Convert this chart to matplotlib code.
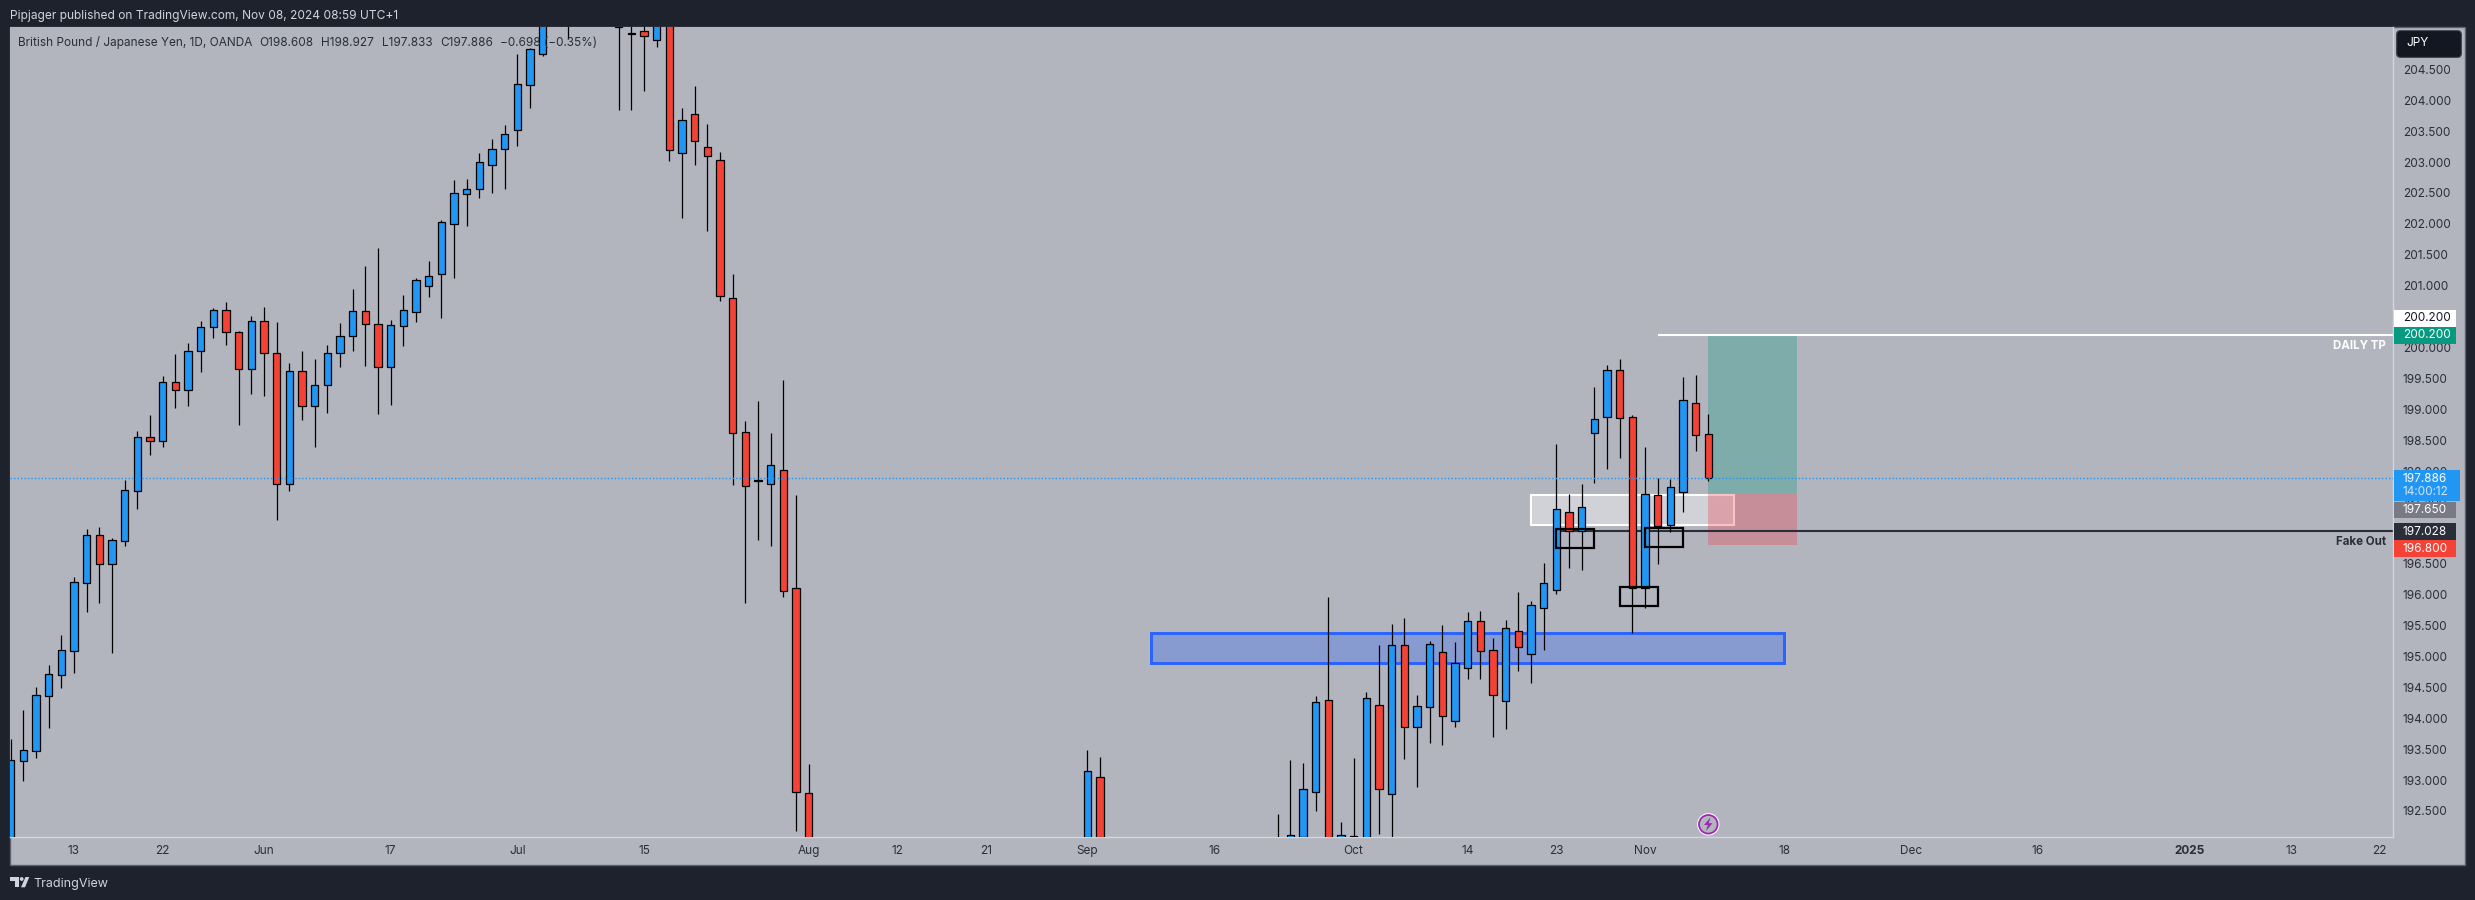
import matplotlib
matplotlib.use("Agg")
import matplotlib.pyplot as plt
from matplotlib.patches import Rectangle, FancyBboxPatch, Circle, Polygon

plt.rcParams['font.family'] = ['Inter', 'DejaVu Sans']

# ---------- data ----------
first_session = "2024-05-06"   # session number 0; sessions are weekdays
bar_idx = list(range(0, 43)) + [44] + list(range(48, 64)) + [85, 86] + list(range(100, 135))
opens = [191.5,193.314,193.476,194.366,194.706,195.094,196.195,196.960,196.502,196.874,
         197.683,198.546,198.493,199.436,199.307,199.938,200.326,200.601,200.245,199.647,
         200.424,199.906,197.786,199.614,199.048,199.388,199.906,200.181,200.585,200.375,
         199.679,200.343,200.569,200.990,201.184,201.993,202.478,202.559,202.948,203.207,
         203.514,204.242,204.744,
         205.6,
         205.22,205.09,205.116,204.981,205.7,203.153,203.773,203.239,203.029,200.796,
         198.627,197.86,197.796,198.012,196.103,192.786,
         191.5,193.045,
         191.3,191.6,192.084,192.802,194.291,192.0,192.10,191.9,194.210,192.769,
         195.180,193.854,194.177,195.067,193.951,194.808,195.569,195.100,194.274,195.407,
         195.035,195.779,196.071,197.333,197.025,198.611,198.870,199.631,198.870,196.103,
         197.608,197.122,197.656,199.097,198.608]
highs = [193.665,194.134,194.506,194.862,195.348,196.286,197.063,197.095,196.912,197.856,
         198.649,198.908,199.539,199.895,200.067,200.429,200.639,200.736,200.26,200.510,
         200.655,200.413,199.744,199.943,199.814,200.041,200.397,200.947,201.319,201.610,
         200.445,200.850,201.119,201.400,202.063,202.705,202.727,203.142,203.374,203.595,
         204.749,204.84,205.9,
         206.3,
         205.6,205.4,205.3,205.9,205.9,203.875,204.231,203.617,203.163,201.189,
         198.811,199.134,198.617,199.474,197.613,193.260,
         193.487,193.374,
         192.451,193.325,193.277,194.355,195.963,192.322,193.352,194.420,195.186,195.526,
         195.623,194.377,195.245,195.509,195.234,195.720,195.736,195.299,195.590,196.044,
         195.898,196.513,198.439,197.630,197.791,199.361,199.717,199.814,198.908,198.390,
         197.883,197.872,199.523,199.555,198.927]
lows = [191.2,192.985,193.357,193.843,194.490,194.733,195.720,195.865,195.056,196.788,
        197.387,198.260,198.390,199.021,199.054,199.604,200.154,200.041,198.746,199.248,
        199.215,197.209,197.678,198.827,198.390,198.940,199.685,199.943,199.701,198.924,
        199.070,200.024,200.413,200.817,200.477,201.125,201.966,202.419,202.500,202.565,
        203.261,203.875,204.711,
        204.987,
        203.848,203.843,204.151,204.868,203.018,202.096,202.953,201.885,200.752,197.775,
        195.865,196.885,196.788,195.963,192.176,190.5,
        191.0,191.0,
        191.0,191.4,191.8,192.500,191.5,191.6,191.7,191.6,192.133,191.9,
        193.347,192.894,193.606,193.573,193.864,194.641,194.641,193.703,193.832,194.771,
        194.576,195.105,196.011,196.437,196.405,197.807,198.034,198.212,195.380,195.785,
        196.497,197.015,197.338,198.325,197.833]
closes = [193.325,193.481,194.371,194.711,195.100,196.200,196.960,196.502,196.880,197.689,
          198.546,198.493,199.436,199.307,199.938,200.326,200.601,200.245,199.647,200.424,
          199.906,197.786,199.614,199.048,199.388,199.906,200.181,200.585,200.375,199.679,
          200.359,200.601,201.087,201.152,202.025,202.495,202.559,202.996,203.207,203.449,
          204.258,204.825,205.6,
          206.0,
          205.18,205.07,205.046,205.6,203.201,203.676,203.347,203.104,200.839,198.622,
          197.764,197.84,198.093,196.065,192.802,191.5,
          193.142,191.3,
          191.7,192.106,192.850,194.258,191.9,192.106,192.08,194.323,192.850,195.180,
          193.854,194.193,195.197,194.032,194.889,195.569,195.083,194.371,195.456,195.148,
          195.828,196.184,197.381,197.025,197.414,198.838,199.631,198.854,196.103,197.624,
          197.106,197.737,199.145,198.579,197.886]

price_ticks = [192.5 + 0.5 * i for i in range(25)]
time_ticks = [5, 12, 20, 30, 40, 50, 63, 70, 77, 85, 95, 106, 115, 122, 129, 140, 150, 160, 172, 180, 187]
time_labels = ["13", "22", "Jun", "17", "Jul", "15", "Aug", "12", "21", "Sep", "16", "Oct", "14", "23",
               "Nov", "18", "Dec", "16", "2025", "13", "22"]

last_price = 197.886
tp_price = 200.2
entry_price = 197.65
stop_price = 196.8
fake_out_price = 197.028
blue_zone = (90, 140, 194.89, 195.385)
white_zone = (120, 136, 197.13, 197.62)
black_boxes = [(122, 125, 196.756, 197.063), (127, 130, 195.817, 196.129), (129, 132, 196.772, 197.079)]
trade_span = (134, 141)

# ---------- colours ----------
DARK = "#1e222d"
BG = "#b2b5be"
UP = "#2196f3"
DOWN = "#f44336"
INK = "#2a2e39"
W, H = 2475, 900

fig = plt.figure(figsize=(W / 100, H / 100), dpi=100, facecolor=DARK)
fig.patches.append(Rectangle((9.5 / W, 1 - 864.5 / H), 2455.5 / W, 838 / H, transform=fig.transFigure,
                             facecolor=BG, edgecolor="#5d606b", lw=1.0, zorder=-5))

ax = fig.add_axes([10 / W, 1 - 837 / H, 2383 / W, 810 / H], facecolor=BG)
ax.set_xlim(-0.04, 188.04)
ax.set_ylim(192.079, 205.186)
for name, sp in ax.spines.items():
    sp.set_visible(name in ("right", "bottom"))
    sp.set_color("#d4d6dc")
    sp.set_linewidth(1.0)

ax.yaxis.tick_right()
ax.set_yticks(price_ticks)
ax.set_yticklabels([f"{p:.3f}" for p in price_ticks], fontsize=8.5, color=INK)
ax.tick_params(axis="y", length=0, pad=7)
ax.set_xticks(time_ticks)
ax.set_xticklabels(time_labels, fontsize=8.5, color=INK)
ax.tick_params(axis="x", length=0, pad=6)
for lab in ax.get_xticklabels():
    if lab.get_text() == "2025":
        lab.set_fontweight("bold")

# drawings (behind candles)
x0, x1, y0, y1 = blue_zone
ax.add_patch(Rectangle((x0, y0), x1 - x0, y1 - y0, facecolor=(41/255, 98/255, 1, 0.3), edgecolor="none", zorder=1))
ax.add_patch(Rectangle((x0, y0), x1 - x0, y1 - y0, facecolor="none", edgecolor="#2962ff", lw=2.1, zorder=1.1))
x0, x1, y0, y1 = white_zone
ax.add_patch(Rectangle((x0, y0), x1 - x0, y1 - y0, facecolor=(1, 1, 1, 0.4), edgecolor="white", lw=1.5, zorder=1.2))
ax.add_patch(Rectangle((trade_span[0], entry_price), trade_span[1] - trade_span[0], tp_price - entry_price,
                       facecolor=(8/255, 153/255, 129/255, 0.3), edgecolor="none", zorder=1.3))
ax.add_patch(Rectangle((trade_span[0], stop_price), trade_span[1] - trade_span[0], entry_price - stop_price,
                       facecolor=(242/255, 54/255, 69/255, 0.3), edgecolor="none", zorder=1.3))
ax.plot([130, 188.04], [tp_price, tp_price], color="white", lw=1.5, zorder=1.5, solid_capstyle="butt")
ax.plot([122, 188.04], [fake_out_price, fake_out_price], color=INK, lw=1.5, zorder=1.5, solid_capstyle="butt")

# candles
body_colors = [UP if c >= o else DOWN for o, c in zip(opens, closes)]
ax.vlines(bar_idx, lows, highs, color="black", lw=0.9, zorder=3)
ax.bar(bar_idx, [abs(c - o) for o, c in zip(opens, closes)], bottom=[min(o, c) for o, c in zip(opens, closes)],
       width=0.58, color=body_colors, edgecolor="black", linewidth=0.9, zorder=3.1)

for x0, x1, y0, y1 in black_boxes:
    ax.add_patch(Rectangle((x0, y0), x1 - x0, y1 - y0, facecolor="none", edgecolor="black", lw=1.6, zorder=3.5))

ax.axhline(last_price, color=UP, lw=1.0, ls=(0, (1, 1.5)), zorder=4)

# ---------- overlay in pixel coordinates: header, tags, logo ----------
ov = fig.add_axes([0, 0, 1, 1], facecolor="none", zorder=10)
ov.set_xlim(0, W)
ov.set_ylim(H, 0)
ov.axis("off")

ov.text(10.3, 15.5, "Pipjager published on TradingView.com, Nov 08, 2024 08:59 UTC+1",
        color="#d1d4dc", fontsize=8.6, va="center", ha="left")

legend_parts = [(18, "British Pound / Japanese Yen, 1D, OANDA"), (259, "O198.608"), (321, "H198.927"),
                (382, "L197.833"), (440, "C197.886"), (500, "\u22120.698 (\u22120.35%)")]
for x, s in legend_parts:
    ov.text(x, 42.7, s, color=INK, fontsize=8.5, va="center", ha="left")

def tag(top, bottom, color, text, text_color, right=2456, text_y=None):
    ov.add_patch(Rectangle((2394, top), right - 2394, bottom - top, facecolor=color, edgecolor="none"))
    ov.text(2402.7, (top + bottom) / 2 if text_y is None else text_y, text, color=text_color,
            fontsize=8.5, va="center", ha="left")

tag(310, 326.8, "white", f"{tp_price:.3f}", "#131722")
tag(327, 343.8, "#089981", f"{tp_price:.3f}", "white")
tag(470, 501, UP, f"{last_price:.3f}", "white", right=2460, text_y=478.7)
ov.text(2402.7, 492.3, "14:00:12", color="#cfe6fb", fontsize=8.5, va="center", ha="left")
tag(501.7, 517.8, "#787b86", f"{entry_price:.3f}", "white")
tag(523.3, 540, INK, f"{fake_out_price:.3f}", "white")
tag(540, 557, DOWN, f"{stop_price:.3f}", "white")

ov.text(2385.7, 345.7, "DAILY TP", color="white", fontsize=8.3, fontweight="bold", ha="right", va="center")
ov.text(2385.7, 541.7, "Fake Out", color=INK, fontsize=8.3, fontweight="bold", ha="right", va="center")

ov.add_patch(FancyBboxPatch((2399, 33), 60, 22, boxstyle="round,pad=2.4,rounding_size=4",
                            facecolor="#131722", edgecolor="#434651", lw=0.8))
ov.text(2406, 43.5, "JPY", color="white", fontsize=8.5, va="center", ha="left")

# currency-event badge
ov.add_patch(Circle((1708.3, 824.3), 11.2, facecolor="white", edgecolor="none"))
ov.add_patch(Circle((1708.3, 824.3), 9.3, facecolor=BG, edgecolor="#9c27b0", lw=1.3))
ov.add_patch(Polygon([(1710.5, 817.5), (1704, 825), (1707.8, 825), (1706, 831), (1712.5, 823.2), (1708.7, 823.2)],
                     closed=True, facecolor="#9c27b0", edgecolor="none"))

# TradingView logo and word
logo = "#d1d4dc"
ov.add_patch(Polygon([(10, 877), (19, 877), (19, 887.3), (15, 887.3), (15, 880.8), (10, 880.8)], closed=True,
                     facecolor=logo, edgecolor="none"))
ov.add_patch(Circle((21.7, 879), 1.9, facecolor=logo, edgecolor="none"))
ov.add_patch(Polygon([(25.5, 877), (29.3, 877), (25, 887.3), (21, 887.3)], closed=True, facecolor=logo, edgecolor="none"))
ov.text(33, 883.5, "TradingView", color="#d1d4dc", fontsize=9.0, va="center", ha="left")

fig.savefig("out.png", dpi=100, facecolor=DARK)
